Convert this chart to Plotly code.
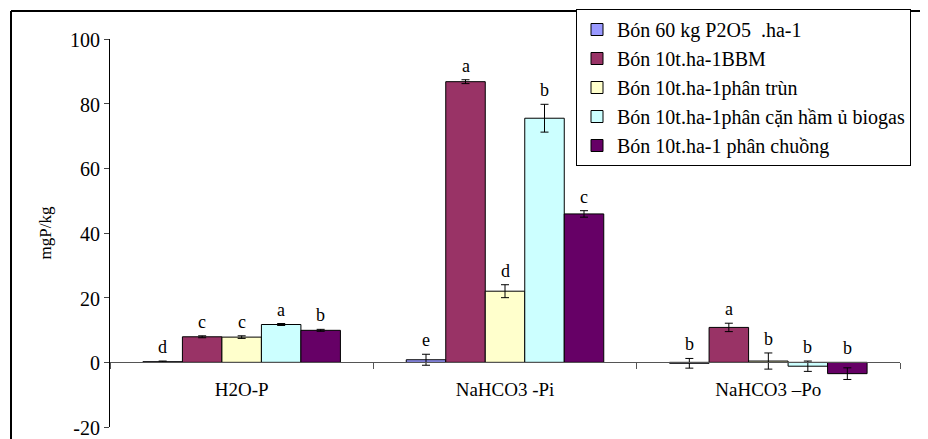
import plotly.graph_objects as go

categories = ["H2O-P", "NaHCO3 -Pi", "NaHCO3 –Po"]
series_names = [
    "Bón 60 kg P2O5  .ha-1",
    "Bón 10t.ha-1BBM",
    "Bón 10t.ha-1phân trùn",
    "Bón 10t.ha-1phân cặn hầm ủ biogas",
    "Bón 10t.ha-1 phân chuồng",
]
values = [
    [0.2, 0.8, -0.3],
    [7.9, 86.8, 10.8],
    [7.8, 22.0, 0.4],
    [11.7, 75.5, -1.2],
    [9.9, 45.9, -3.5],
]
errors = [
    [0.2, 1.7, 1.5],
    [0.3, 0.6, 1.3],
    [0.4, 2.0, 2.5],
    [0.3, 4.3, 1.6],
    [0.3, 1.0, 1.8],
]
letters = [
    ["d", "e", "b"],
    ["c", "a", "a"],
    ["c", "d", "b"],
    ["a", "b", "b"],
    ["b", "c", "b"],
]
y_tick_values = [-20, 0, 20, 40, 60, 80, 100]
y_tick_labels = ["-20", "0", "20", "40", "60", "80", "100"]
colors = ["#9999FF", "#993366", "#FFFFCC", "#CCFFFF", "#660066"]

FONT = "Liberation Serif"
fig = go.Figure()
for j, name in enumerate(series_names):
    fig.add_trace(go.Bar(
        name=name, x=categories, y=values[j],
        marker=dict(color=colors[j], line=dict(color="black", width=1)),
        error_y=dict(type="data", array=errors[j], color="black", thickness=1, width=4),
    ))

n = len(series_names)
bargap = 0.25
bw = (1 - bargap) / n
for j in range(n):
    for i, cat in enumerate(categories):
        xc = i - (1 - bargap) / 2 + bw * (j + 0.5)
        top = max(values[j][i] + errors[j][i], 0)
        fig.add_annotation(x=xc, y=top, xref="x", yref="y", text=letters[j][i],
                           showarrow=False, yanchor="bottom", yshift=2,
                           font=dict(family=FONT, size=18, color="black"))

# page body has an 8px margin: figure sits at (8, 8)
OFF = 8
W, H = 928 - OFF, 439 - OFF
PW, PH = 790, 388
ML, MT = 110 - OFF, 39 - OFF
frame_x = -(110 - 11) / PW
frame_y = 1 + (39 - 11) / PH
fig.update_layout(
    width=W, height=H,
    margin=dict(l=ML, r=W - ML - PW, t=MT, b=H - MT - PH, autoexpand=False),
    barmode="group", bargap=bargap, bargroupgap=0,
    paper_bgcolor="white", plot_bgcolor="rgba(0,0,0,0)",
    font=dict(family=FONT, size=18, color="black"),
    showlegend=True,
    legend=dict(x=(576 - 110) / PW, y=1 + (39 - 9) / PH, xanchor="left", yanchor="top",
                bgcolor="white", bordercolor="black", borderwidth=1,
                font=dict(family=FONT, size=20), tracegroupgap=0,
                traceorder="normal"),
    xaxis=dict(type="category", showline=True, linecolor="#555555", linewidth=1,
               ticks="outside", tickson="boundaries", ticklen=6, tickcolor="#555555",
               anchor="free", position=1/6, showgrid=False, zeroline=False,
               ticklabelstandoff=10, tickfont=dict(family=FONT, size=19),
               range=[-0.5, 2.5], automargin=False),
    yaxis=dict(range=[-20, 100], tickmode="array", tickvals=y_tick_values, ticktext=y_tick_labels,
               showline=True, linecolor="black", linewidth=1,
               ticks="outside", ticklen=5, showgrid=False, zeroline=False,
               ticklabeloverflow="allow", automargin=False, ticklabelshift=1,
               tickfont=dict(family=FONT, size=20),
               title=dict(text="mgP/kg", font=dict(family=FONT, size=17), standoff=14)),
    shapes=[
        dict(type="line", xref="paper", yref="paper",
             x0=frame_x, x1=1.1, y0=frame_y, y1=frame_y,
             line=dict(color="black", width=2), layer="above"),
        dict(type="line", xref="paper", yref="paper",
             x0=frame_x, x1=frame_x, y0=-0.1, y1=frame_y,
             line=dict(color="black", width=2), layer="above"),
    ],
)

fig.write_html("out.html")
